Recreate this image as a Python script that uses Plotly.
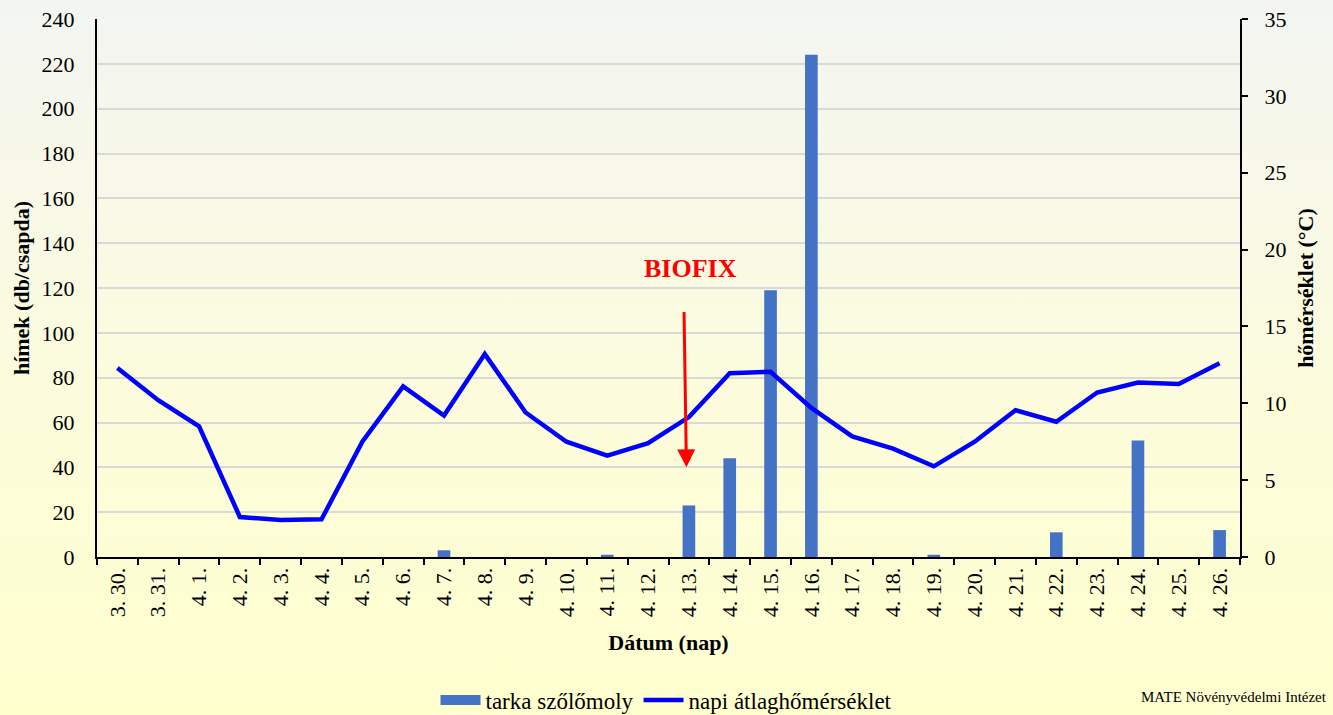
import base64
import plotly.graph_objects as go

# ---- data ----
dates = ["3. 30.", "3. 31.", "4. 1.", "4. 2.", "4. 3.", "4. 4.", "4. 5.", "4. 6.", "4. 7.",
         "4. 8.", "4. 9.", "4. 10.", "4. 11.", "4. 12.", "4. 13.", "4. 14.", "4. 15.",
         "4. 16.", "4. 17.", "4. 18.", "4. 19.", "4. 20.", "4. 21.", "4. 22.", "4. 23.",
         "4. 24.", "4. 25.", "4. 26."]
moths = [0, 0, 0, 0, 0, 0, 0, 0, 3, 0, 0, 0, 1, 0, 23, 44, 119, 224, 0, 0, 1, 0, 0, 11, 0,
         52, 0, 12]
temps = [12.3, 10.2, 8.5, 2.6, 2.4, 2.45, 7.5, 11.1, 9.2, 13.2, 9.4, 7.5, 6.6, 7.4, 9.1,
         11.95, 12.05, 9.7, 7.85, 7.05, 5.9, 7.5, 9.55, 8.8, 10.7, 11.35, 11.25, 12.6]

left_ticks = list(range(0, 241, 20))
right_ticks = list(range(0, 36, 5))

bar_name = "tarka szőlőmoly"
line_name = "napi átlaghőmérséklet"
biofix_label = "BIOFIX"
source_text = "MATE Növényvédelmi Intézet"

FONT = "Liberation Serif"
BAR_COLOR = "#4472C4"
LINE_COLOR = "#0000FF"

# background gradient as an svg image
W, H = 1333, 715
svg = (f'<svg xmlns="http://www.w3.org/2000/svg" width="{W}" height="{H}" '
       f'preserveAspectRatio="none" viewBox="0 0 {W} {H}">'
       '<defs><linearGradient id="g" x1="0" y1="0" x2="0" y2="1">'
       '<stop offset="0" stop-color="#F3F5F2"/>'
       '<stop offset="0.55" stop-color="#FCFCDC"/>'
       '<stop offset="1" stop-color="#FFFFCE"/>'
       '</linearGradient></defs>'
       f'<rect width="{W}" height="{H}" fill="url(#g)"/></svg>')
bg_uri = "data:image/svg+xml;base64," + base64.b64encode(svg.encode()).decode()

ML, MR, MT, MB = 97, 93, 19, 158
PW, PH = W - ML - MR, H - MT - MB

fig = go.Figure()
fig.add_trace(go.Bar(x=dates, y=moths, name=bar_name, marker_color=BAR_COLOR,
                     marker_line_width=0, yaxis="y", showlegend=False))
# legend-only entry drawn as a wide rectangle like the reference
fig.add_trace(go.Scatter(x=[None], y=[None], name=bar_name, mode="lines",
                         line=dict(color=BAR_COLOR, width=10), yaxis="y"))
fig.add_trace(go.Scatter(x=dates, y=temps, name=line_name, mode="lines",
                         line=dict(color=LINE_COLOR, width=4.5), yaxis="y2"))

fig.update_layout(
    width=W, height=H,
    margin=dict(l=ML, r=MR, t=MT, b=MB, autoexpand=False),
    paper_bgcolor="rgba(0,0,0,0)", plot_bgcolor="rgba(0,0,0,0)",
    font=dict(family=FONT, size=22, color="black"),
    bargap=0.69,
    showlegend=True,
    legend=dict(orientation="h", x=0.5, xanchor="center", xref="container",
                y=0.021, yanchor="middle", yref="container",
                font=dict(family=FONT, size=23), bgcolor="rgba(0,0,0,0)",
                traceorder="normal", itemwidth=40),
    xaxis=dict(type="category", categoryorder="array", categoryarray=dates,
               range=[-0.5, len(dates) - 0.5],
               showline=True, linecolor="black", linewidth=2,
               ticks="outside", tickson="boundaries", ticklen=6, tickcolor="black",
               tickwidth=2, tickangle=-90, tickfont=dict(size=22),
               showgrid=False,
               title=dict(text="<b>Dátum (nap)</b>", font=dict(size=22), standoff=18)),
    yaxis=dict(range=[0, 240], tickvals=left_ticks, showline=True, linecolor="black",
               linewidth=2, ticks="", showgrid=True, gridcolor="#D9D9D9", gridwidth=2,
               zeroline=False, ticklabelstandoff=16, tickfont=dict(size=22),
               title=dict(text="<b>hímek (db/csapda)</b>", font=dict(size=22), standoff=6)),
    yaxis2=dict(range=[0, 35], tickvals=right_ticks, overlaying="y", side="right",
                showline=True, linecolor="black", linewidth=2, ticks="outside",
                ticklen=6, tickwidth=2, tickcolor="black", showgrid=False,
                zeroline=False, ticklabelstandoff=12, tickfont=dict(size=22),
                title=dict(text="<b>hőmérséklet (°C)</b>", font=dict(size=22), standoff=12)),
    images=[dict(source=bg_uri, xref="paper", yref="paper",
                 x=-ML / PW, y=1 + MT / PH, sizex=W / PW, sizey=H / PH,
                 xanchor="left", yanchor="top", sizing="stretch", layer="below")],
)

# BIOFIX arrow and label
fig.add_annotation(x=13.94, y=40, xref="x", yref="y", ax=13.88, ay=110, axref="x",
                   ayref="y", showarrow=True, arrowhead=2, arrowsize=1.2, arrowwidth=3,
                   arrowcolor="#FF0000", text="")
fig.add_annotation(x=14.05, y=128.5, xref="x", yref="y", text=f"<b>{biofix_label}</b>",
                   showarrow=False, font=dict(family=FONT, size=26, color="#FF0000"))
fig.add_annotation(x=(1329 - ML) / PW, y=1 - (697 - MT) / PH, xref="paper", yref="paper",
                   text=source_text, showarrow=False, xanchor="right", yanchor="middle",
                   font=dict(family=FONT, size=15, color="black"))

fig.write_html("out.html", config={"displayModeBar": False},
               post_script="document.body.style.margin='0';document.body.style.overflow='hidden';")
